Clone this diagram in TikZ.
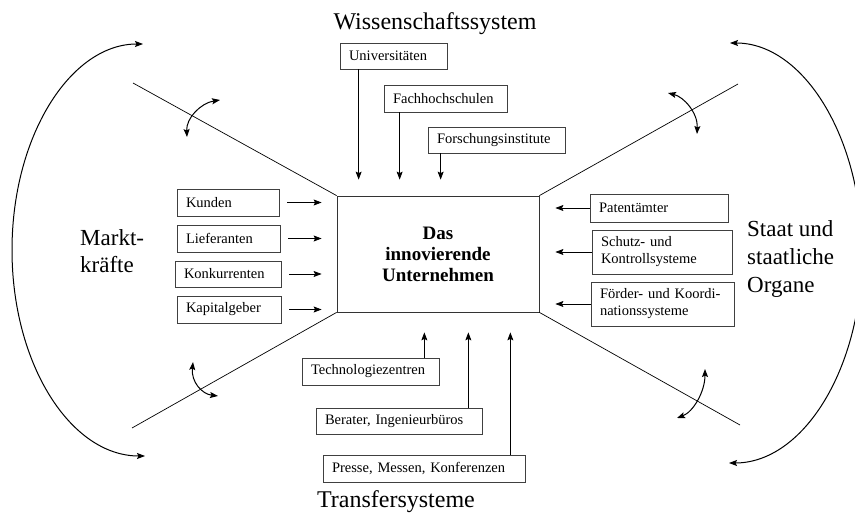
\documentclass[tikz,border=0pt]{standalone}
\usepackage{fontspec}
\setmainfont{Liberation Serif}
\usetikzlibrary{arrows.meta}
\begin{document}
\begin{tikzpicture}[x=1pt,y=-1pt,
  arrowhd/.tip={Stealth[length=8pt,width=6pt,inset=1.5pt]},
  box/.style={draw=black!75, line width=0.7pt, inner xsep=9pt, inner ysep=0pt,
              align=left, font=\fontsize{14.5}{17}\selectfont},
  flow/.style={-arrowhd, line width=0.8pt},
  swing/.style={arrowhd-arrowhd, line width=1pt},
  ray/.style={line width=0.7pt},
  heading/.style={font=\fontsize{24}{28}\selectfont, inner sep=0pt},
]
\useasboundingbox (0,0) rectangle (855,516);

% the firm in the centre
\node[draw=black!80, line width=0.8pt, minimum width=202pt, minimum height=116pt,
      align=center, font=\bfseries\fontsize{19}{21}\selectfont]
  (firm) at (438,254) {Das\\innovierende\\Unternehmen};

% rays from the corners of the firm
\coordinate (rayNW) at (133,83);
\coordinate (raySW) at (132,428);
\coordinate (rayNE) at (738,84);
\coordinate (raySE) at (740,425);
\draw[ray] (firm.north west) -- (rayNW);
\draw[ray] (firm.south west) -- (raySW);
\draw[ray] (firm.north east) -- (rayNE);
\draw[ray] (firm.south east) -- (raySE);

% sector headings
\node[heading, anchor=base] (wiss) at (435,30) {Wissenschaftssystem};
\node[heading, anchor=base] (transfer) at (396,507) {Transfersysteme};
\node[heading, anchor=west, align=left, font=\fontsize{23}{27}\selectfont]
  (markt) at (80,251) {Markt-\\kräfte};
\node[heading, anchor=west, align=left, font=\fontsize{23}{28}\selectfont]
  (staat) at (747,259) {Staat und\\staatliche\\Organe};

% market forces
\node[box, text width=84pt, minimum height=27pt] (kunden)  at (228,202.5) {Kunden};
\node[box, text width=85pt, minimum height=27pt] (liefer)  at (228.5,238.5) {Lieferanten};
\node[box, text width=88pt, minimum height=26pt] (konk)    at (228,274) {Konkurrenten};
\node[box, text width=86pt, minimum height=27pt] (kapital) at (229,309.5) {Kapitalgeber};

% state bodies
\node[box, text width=120pt, minimum height=28pt] (patent)  at (659,208) {Patentämter};
\node[box, text width=122pt, minimum height=44pt] (schutz)  at (662,252) {Schutz- und\\Kontrollsysteme};
\node[box, text width=125pt, minimum height=44pt] (foerder) at (662.5,304) {Förder- und Koordi-\\nationssysteme};

% science system
\node[box, text width=89pt,  minimum height=26pt] (uni)    at (393.5,56) {Universitäten};
\node[box, text width=105pt, minimum height=27pt] (fach)   at (445.5,98.5) {Fachhochschulen};
\node[box, text width=119pt, minimum height=26pt] (forsch) at (496.5,140) {Forschungsinstitute};

% transfer systems
\node[box, text width=119pt, minimum height=27pt] (techno)  at (370.5,371.5) {Technologiezentren};
\node[box, text width=148pt, minimum height=26pt] (berater) at (399,421) {Berater, Ingenieurbüros};
\node[box, text width=184pt, minimum height=27pt] (presse)  at (424,468.5) {Presse, Messen, Konferenzen};

% influences from the left
\foreach \b in {kunden,liefer,konk,kapital}
  \draw[flow, shorten <=8pt, shorten >=15pt] (\b.east) -- (\b.east -| firm.west);

% influences from the right
\foreach \b in {patent,schutz,foerder}
  \draw[flow, shorten >=16pt] (\b.west) -- (\b.west -| firm.east);

% influences from above
\coordinate (uniFoot)    at ([xshift=19pt]uni.south west);
\coordinate (fachFoot)   at ([xshift=16pt]fach.south west);
\coordinate (forschFoot) at ([xshift=13pt]forsch.south west);
\foreach \c in {uniFoot,fachFoot,forschFoot}
  \draw[flow, shorten >=16pt] (\c) -- (\c |- firm.north);

% influences from below
\coordinate (technoHead)  at ([xshift=-15pt]techno.north east);
\coordinate (beraterHead) at ([xshift=-14pt]berater.north east);
\coordinate (presseHead)  at ([xshift=-15pt]presse.north east);
\foreach \c in {technoHead,beraterHead,presseHead}
  \draw[flow, shorten >=20pt] (\c) -- (\c |- firm.south);

% interaction between neighbouring sectors
\draw[swing] (187,137) .. controls (186,118) and (201,103) .. (220,100);
\draw[swing] (668,93) .. controls (684,97) and (698,113) .. (697,134);
\draw[swing] (193,362) .. controls (191,382) and (202,394) .. (218,396);
\draw[swing] (705,369) .. controls (705,392) and (693,412) .. (677,418);

% outer arcs
\draw[swing] (143,44) .. controls (70.6,44) and (12,136) .. (12,250)
             .. controls (12,364) and (70.6,456) .. (145,456);
\draw[swing] (730,43) .. controls (803,43) and (862,137) .. (862,253)
             .. controls (862,369) and (803,463) .. (729,463);
\end{tikzpicture}
\end{document}
